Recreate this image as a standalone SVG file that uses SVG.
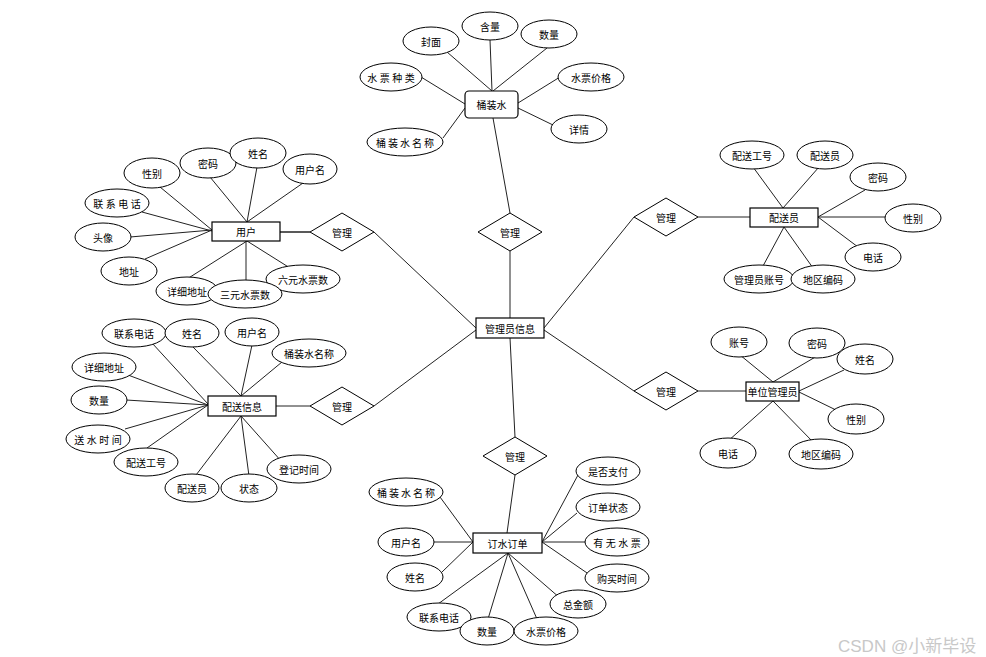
<svg xmlns="http://www.w3.org/2000/svg" width="986" height="657" viewBox="0 0 986 657">
<style>
text{font-family:"Noto Sans CJK SC","Liberation Sans",sans-serif;font-size:10px;text-anchor:middle;dominant-baseline:central;fill:#000}
.a ellipse{fill:#fff;stroke:#000;stroke-width:1}
.e rect{fill:#fff;stroke:#000;stroke-width:1.2}
.r polygon{fill:#fff;stroke:#000;stroke-width:1}
#connectors line{stroke:#222;stroke-width:1}
.w{letter-spacing:2.5px}
.w5{letter-spacing:2px}
.wm{font-family:"Liberation Sans","Noto Sans CJK SC",sans-serif;font-size:17px;fill:#c8c8c8;text-anchor:start}
</style>
<rect width="986" height="657" fill="#fff"/>
<g id="connectors">
<line x1="493" y1="118" x2="510" y2="213"/>
<line x1="510" y1="251" x2="510" y2="318"/>
<line x1="280" y1="232" x2="310" y2="232" style="stroke-width:1.5"/>
<line x1="374" y1="232" x2="476" y2="328"/>
<line x1="276" y1="406" x2="310" y2="406"/>
<line x1="374" y1="406" x2="476" y2="330"/>
<line x1="698" y1="217" x2="750" y2="217"/>
<line x1="634" y1="217" x2="544" y2="328"/>
<line x1="698" y1="391" x2="746" y2="391"/>
<line x1="634" y1="391" x2="544" y2="330"/>
<line x1="510" y1="338" x2="515" y2="437"/>
<line x1="515" y1="475" x2="507" y2="533"/>
<line x1="447" y1="52" x2="492" y2="91"/>
<line x1="490" y1="40" x2="492" y2="91"/>
<line x1="547" y1="48" x2="493" y2="91"/>
<line x1="421" y1="77" x2="465" y2="104"/>
<line x1="560" y1="77" x2="518" y2="103"/>
<line x1="553" y1="125" x2="518" y2="108"/>
<line x1="443" y1="138" x2="465" y2="108"/>
<line x1="160" y1="187" x2="212" y2="230"/>
<line x1="210" y1="177" x2="247" y2="222"/>
<line x1="257" y1="167" x2="247" y2="222"/>
<line x1="303" y1="183" x2="247" y2="222"/>
<line x1="142" y1="212" x2="212" y2="231"/>
<line x1="130" y1="237" x2="212" y2="230"/>
<line x1="145" y1="259" x2="212" y2="230"/>
<line x1="187" y1="279" x2="247" y2="241"/>
<line x1="246" y1="282" x2="246" y2="241"/>
<line x1="290" y1="268" x2="247" y2="241"/>
<line x1="152" y1="343" x2="208" y2="404"/>
<line x1="193" y1="347" x2="241" y2="396"/>
<line x1="252" y1="345" x2="241" y2="396"/>
<line x1="282" y1="362" x2="241" y2="396"/>
<line x1="128" y1="375" x2="208" y2="405"/>
<line x1="126" y1="400" x2="208" y2="405"/>
<line x1="125" y1="429" x2="208" y2="405"/>
<line x1="147" y1="448" x2="208" y2="405"/>
<line x1="193" y1="479" x2="241" y2="416"/>
<line x1="249" y1="476" x2="241" y2="416"/>
<line x1="282" y1="462" x2="241" y2="416"/>
<line x1="753" y1="167" x2="783" y2="208"/>
<line x1="819" y1="167" x2="783" y2="208"/>
<line x1="865" y1="190" x2="818" y2="217"/>
<line x1="886" y1="217" x2="818" y2="217"/>
<line x1="858" y1="247" x2="818" y2="217"/>
<line x1="763" y1="266" x2="784" y2="227"/>
<line x1="813" y1="268" x2="784" y2="227"/>
<line x1="740" y1="355" x2="773" y2="382"/>
<line x1="817" y1="356" x2="773" y2="382"/>
<line x1="844" y1="370" x2="799" y2="391"/>
<line x1="836" y1="410" x2="799" y2="392"/>
<line x1="728" y1="441" x2="773" y2="401"/>
<line x1="813" y1="442" x2="773" y2="401"/>
<line x1="440" y1="497" x2="473" y2="542"/>
<line x1="432" y1="542" x2="473" y2="542"/>
<line x1="442" y1="572" x2="473" y2="542"/>
<line x1="578" y1="475" x2="542" y2="542"/>
<line x1="577" y1="513" x2="542" y2="542"/>
<line x1="587" y1="542" x2="542" y2="542"/>
<line x1="590" y1="575" x2="542" y2="542"/>
<line x1="438" y1="604" x2="508" y2="553"/>
<line x1="488" y1="619" x2="508" y2="553"/>
<line x1="537" y1="619" x2="508" y2="553"/>
<line x1="560" y1="598" x2="508" y2="553"/>
</g>

<g id="e-tongzhuangshui" class="e"><rect x="465" y="91" width="53" height="27" rx="4"/><text x="491.5" y="104.5">桶装水</text></g>
<g id="e-yonghu" class="e"><rect x="212" y="222" width="68" height="19"/><text x="246" y="231.5">用户</text></g>
<g id="e-peisongxinxi" class="e"><rect x="208" y="396" width="68" height="20"/><text x="242" y="406">配送信息</text></g>
<g id="e-guanliyuanxinxi" class="e"><rect x="476" y="318" width="68" height="20"/><text x="510" y="328">管理员信息</text></g>
<g id="e-peisongyuan" class="e"><rect x="750" y="208" width="68" height="19"/><text x="784" y="217.5">配送员</text></g>
<g id="e-danweiguanliyuan" class="e"><rect x="746" y="382" width="53" height="19"/><text x="772.5" y="391.5">单位管理员</text></g>
<g id="e-dingshuidingdan" class="e"><rect x="473" y="533" width="69" height="20"/><text x="507.5" y="543">订水订单</text></g>

<g id="r-top" class="r"><polygon points="510,213 542,232 510,251 478,232"/><text x="510" y="232">管理</text></g>
<g id="r-yonghu" class="r"><polygon points="342,213 374,232 342,251 310,232"/><text x="342" y="232">管理</text></g>
<g id="r-peisongxinxi" class="r"><polygon points="342,387 374,406 342,425 310,406"/><text x="342" y="406">管理</text></g>
<g id="r-peisongyuan" class="r"><polygon points="666,198 698,217 666,236 634,217"/><text x="666" y="217">管理</text></g>
<g id="r-danwei" class="r"><polygon points="666,372 698,391 666,410 634,391"/><text x="666" y="391">管理</text></g>
<g id="r-dingdan" class="r"><polygon points="515,437 547,456 515,475 483,456"/><text x="515" y="456">管理</text></g>

<g id="a-tzs-fengmian" class="a"><ellipse cx="431" cy="41" rx="28" ry="14"/><text x="431" y="41">封面</text></g>
<g id="a-tzs-hanliang" class="a"><ellipse cx="490" cy="26" rx="28" ry="14"/><text x="490" y="26">含量</text></g>
<g id="a-tzs-shuliang" class="a"><ellipse cx="549" cy="34" rx="28" ry="14"/><text x="549" y="34">数量</text></g>
<g id="a-tzs-zhonglei" class="a"><ellipse cx="391" cy="77" rx="31" ry="14"/><text class="w" x="392.2" y="77">水票种类</text></g>
<g id="a-tzs-jiage" class="a"><ellipse cx="591" cy="77" rx="33" ry="14"/><text x="591" y="77">水票价格</text></g>
<g id="a-tzs-xiangqing" class="a"><ellipse cx="579" cy="129" rx="28" ry="14"/><text x="579" y="129">详情</text></g>
<g id="a-tzs-mingcheng" class="a"><ellipse cx="405" cy="142" rx="38" ry="14"/><text class="w5" x="406" y="142">桶装水名称</text></g>

<g id="a-yh-xingbie" class="a"><ellipse cx="152" cy="173" rx="28" ry="15"/><text x="152" y="173">性别</text></g>
<g id="a-yh-mima" class="a"><ellipse cx="208" cy="163" rx="28" ry="15"/><text x="208" y="163">密码</text></g>
<g id="a-yh-xingming" class="a"><ellipse cx="258" cy="153" rx="28" ry="15"/><text x="258" y="153">姓名</text></g>
<g id="a-yh-yonghuming" class="a"><ellipse cx="310" cy="169" rx="27" ry="15"/><text x="310" y="169">用户名</text></g>
<g id="a-yh-dianhua" class="a"><ellipse cx="117" cy="203" rx="32" ry="14"/><text class="w" x="118.2" y="203">联系电话</text></g>
<g id="a-yh-touxiang" class="a"><ellipse cx="103" cy="237" rx="28" ry="14"/><text x="103" y="237">头像</text></g>
<g id="a-yh-dizhi" class="a"><ellipse cx="129" cy="271" rx="28" ry="14"/><text x="129" y="271">地址</text></g>
<g id="a-yh-xiangxidizhi" class="a"><ellipse cx="187" cy="291" rx="31" ry="14"/><text x="187" y="291">详细地址</text></g>
<g id="a-yh-liuyuan" class="a"><ellipse cx="303" cy="279" rx="37" ry="14"/><text x="303" y="279">六元水票数</text></g>
<g id="a-yh-sanyuan" class="a"><ellipse cx="245" cy="294" rx="37" ry="14"/><text x="245" y="294">三元水票数</text></g>

<g id="a-ps-dianhua" class="a"><ellipse cx="134" cy="333" rx="32" ry="14"/><text x="134" y="333">联系电话</text></g>
<g id="a-ps-xingming" class="a"><ellipse cx="192" cy="333" rx="27" ry="14"/><text x="192" y="333">姓名</text></g>
<g id="a-ps-yonghuming" class="a"><ellipse cx="252" cy="332" rx="27" ry="14"/><text x="252" y="332">用户名</text></g>
<g id="a-ps-mingcheng" class="a"><ellipse cx="309" cy="353" rx="37" ry="14"/><text x="309" y="353">桶装水名称</text></g>
<g id="a-ps-xiangxidizhi" class="a"><ellipse cx="104" cy="367" rx="32" ry="14"/><text x="104" y="367">详细地址</text></g>
<g id="a-ps-shuliang" class="a"><ellipse cx="99" cy="400" rx="28" ry="14"/><text x="99" y="400">数量</text></g>
<g id="a-ps-songshui" class="a"><ellipse cx="98" cy="439" rx="32" ry="14"/><text class="w" x="99.2" y="439">送水时间</text></g>
<g id="a-ps-gonghao" class="a"><ellipse cx="146" cy="462" rx="32" ry="14"/><text x="146" y="462">配送工号</text></g>
<g id="a-ps-peisongyuan" class="a"><ellipse cx="192" cy="488" rx="27" ry="14"/><text x="192" y="488">配送员</text></g>
<g id="a-ps-zhuangtai" class="a"><ellipse cx="249" cy="488" rx="28" ry="14"/><text x="249" y="488">状态</text></g>
<g id="a-ps-dengji" class="a"><ellipse cx="299" cy="469" rx="32" ry="14"/><text x="299" y="469">登记时间</text></g>

<g id="a-py-gonghao" class="a"><ellipse cx="752" cy="155" rx="32" ry="14"/><text x="752" y="155">配送工号</text></g>
<g id="a-py-peisongyuan" class="a"><ellipse cx="825" cy="155" rx="28" ry="14"/><text x="825" y="155">配送员</text></g>
<g id="a-py-mima" class="a"><ellipse cx="878" cy="177" rx="28" ry="14"/><text x="878" y="177">密码</text></g>
<g id="a-py-xingbie" class="a"><ellipse cx="913" cy="218" rx="28" ry="14"/><text x="913" y="218">性别</text></g>
<g id="a-py-dianhua" class="a"><ellipse cx="873" cy="257" rx="28" ry="14"/><text x="873" y="257">电话</text></g>
<g id="a-py-zhanghao" class="a"><ellipse cx="759" cy="279" rx="35" ry="14"/><text x="759" y="279">管理员账号</text></g>
<g id="a-py-diqu" class="a"><ellipse cx="823" cy="279" rx="32" ry="14"/><text x="823" y="279">地区编码</text></g>

<g id="a-dw-zhanghao" class="a"><ellipse cx="739" cy="342" rx="28" ry="15"/><text x="739" y="342">账号</text></g>
<g id="a-dw-mima" class="a"><ellipse cx="817" cy="343" rx="28" ry="15"/><text x="817" y="343">密码</text></g>
<g id="a-dw-xingming" class="a"><ellipse cx="865" cy="359" rx="28" ry="15"/><text x="865" y="359">姓名</text></g>
<g id="a-dw-xingbie" class="a"><ellipse cx="856" cy="419" rx="28" ry="15"/><text x="856" y="419">性别</text></g>
<g id="a-dw-dianhua" class="a"><ellipse cx="728" cy="453" rx="28" ry="15"/><text x="728" y="453">电话</text></g>
<g id="a-dw-diqu" class="a"><ellipse cx="821" cy="454" rx="32" ry="15"/><text x="821" y="454">地区编码</text></g>

<g id="a-dd-zhifu" class="a"><ellipse cx="608" cy="471" rx="32" ry="14"/><text x="608" y="471">是否支付</text></g>
<g id="a-dd-zhuangtai" class="a"><ellipse cx="608" cy="507" rx="32" ry="14"/><text x="608" y="507">订单状态</text></g>
<g id="a-dd-shuipiao" class="a"><ellipse cx="617" cy="542" rx="32" ry="14"/><text class="w" x="618.2" y="542">有无水票</text></g>
<g id="a-dd-goumai" class="a"><ellipse cx="617" cy="578" rx="32" ry="14"/><text x="617" y="578">购买时间</text></g>
<g id="a-dd-zongjine" class="a"><ellipse cx="578" cy="604" rx="28" ry="14"/><text x="578" y="604">总金额</text></g>
<g id="a-dd-dianhua" class="a"><ellipse cx="439" cy="617" rx="32" ry="14"/><text x="439" y="617">联系电话</text></g>
<g id="a-dd-shuliang" class="a"><ellipse cx="487" cy="631" rx="27" ry="14"/><text x="487" y="631">数量</text></g>
<g id="a-dd-jiage" class="a"><ellipse cx="546" cy="631" rx="32" ry="14"/><text x="546" y="631">水票价格</text></g>
<g id="a-dd-xingming" class="a"><ellipse cx="415" cy="577" rx="28" ry="14"/><text x="415" y="577">姓名</text></g>
<g id="a-dd-yonghuming" class="a"><ellipse cx="406" cy="542" rx="28" ry="14"/><text x="406" y="542">用户名</text></g>
<g id="a-dd-mingcheng" class="a"><ellipse cx="406" cy="492" rx="37" ry="14"/><text class="w5" x="407" y="492">桶装水名称</text></g>

<text class="wm" x="838" y="646">CSDN @小新毕设</text>
</svg>
